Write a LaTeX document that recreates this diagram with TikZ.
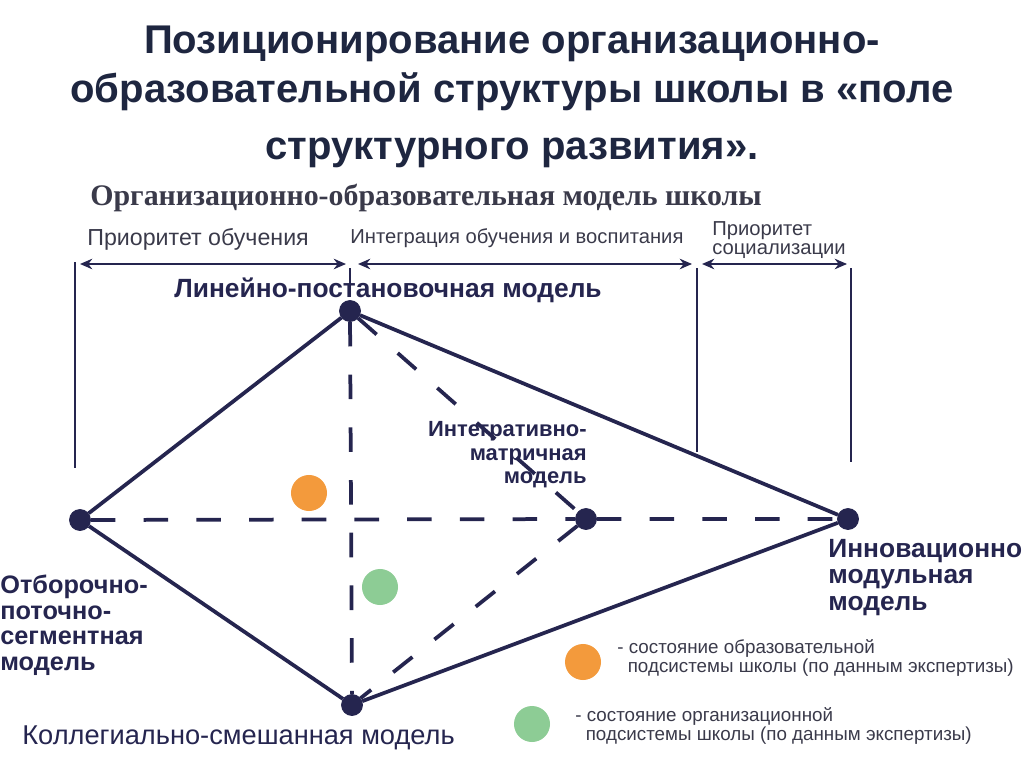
\documentclass[tikz,border=0pt]{standalone}
\usepackage{fontspec}
\setmainfont{Liberation Sans}
\newfontfamily\serifbold{Liberation Serif}
\usetikzlibrary{arrows.meta}
\definecolor{navy}{HTML}{25254F}
\definecolor{titlecol}{HTML}{1E2640}
\definecolor{textgray}{HTML}{3A3A4A}
\definecolor{dotorange}{HTML}{F39A3C}
\definecolor{dotgreen}{HTML}{8DCC95}

\begin{document}
\begin{tikzpicture}[x=0.02cm, y=-0.02cm]
            \tikzstyle{model}=[circle, fill=navy, draw=navy, inner sep=0pt, minimum size=12pt]
            \tikzstyle{edge}=[navy, line width=0.75mm]
            \tikzstyle{dashedge}=[navy, line width=0.75mm, dash pattern=on 14pt off 16pt]
            \tikzstyle{bar}=[navy, line width=0.5mm]
            \tikzstyle{span}=[navy, line width=0.4mm, {Stealth[length=7pt,width=6pt]}-{Stealth[length=7pt,width=6pt]}]
            \tikzstyle{label}=[font=\bfseries\fontsize{15}{15}\selectfont, text=navy, inner sep=0pt]
            \tikzstyle{small}=[font=\fontsize{11.5}{11}\selectfont, text=textgray, inner sep=0pt]
            \tikzstyle{state}=[circle, inner sep=0pt, minimum size=20.5pt]

            \useasboundingbox (0,0) rectangle (1024,767);

            % title
            \node[font=\bfseries\fontsize{22.8}{24}\selectfont, text=titlecol] (title1) at (512,44) {Позиционирование организационно-};
            \node[font=\bfseries\fontsize{22.8}{24}\selectfont, text=titlecol] (title2) at (512,92) {образовательной структуры школы в «поле};
            \node[font=\bfseries\fontsize{22.8}{24}\selectfont, text=titlecol] (title3) at (512,153) {структурного развития».};
            \node[font=\serifbold\bfseries\fontsize{17}{18}\selectfont, text=textgray, anchor=west, inner sep=0pt] (subtitle) at (90,198) {Организационно-образовательная модель школы};

            % priorities
            \node[small, font=\fontsize{13.2}{13}\selectfont, anchor=west] (prio1) at (87,239) {Приоритет обучения};
            \node[small, anchor=west] (prio2) at (350,238) {Интеграция обучения и воспитания};
            \node[small, anchor=west, align=left] (prio3) at (712,240) {Приоритет\\социализации};

            \coordinate (b1t) at (75,262);   \coordinate (b1b) at (75,468);
            \coordinate (b2t) at (350,268);  \coordinate (b2b) at (350,284);
            \coordinate (b3t) at (697,268);  \coordinate (b3b) at (697,452);
            \coordinate (b4t) at (851,268);  \coordinate (b4b) at (851,462);
            \draw[bar] (b1t) -- (b1b);
            \draw[bar] (b2t) -- (b2b);
            \draw[bar] (b3t) -- (b3b);
            \draw[bar] (b4t) -- (b4b);

            \coordinate (s1l) at (80,264);   \coordinate (s1r) at (346,264);
            \coordinate (s2l) at (358,264);  \coordinate (s2r) at (692,264);
            \coordinate (s3l) at (702,264);  \coordinate (s3r) at (847,264);
            \draw[span] (s1l) -- (s1r);
            \draw[span] (s2l) -- (s2r);
            \draw[span] (s3l) -- (s3r);

            % models
            \node[model] (lin) at (350,311) {};
            \node[model] (otb) at (80,520) {};
            \node[model] (kol) at (352,705) {};
            \node[model] (inn) at (848,519) {};
            \node[model] (int) at (586,519) {};

            \draw[dashedge] (otb) -- (int) -- (inn);
            \draw[dashedge] (lin) -- (kol);
            \draw[dashedge] (lin) -- (int) -- (kol);
            \draw[edge] (lin) -- (otb) -- (kol) -- (inn) -- (lin);

            \node[label] (linlab) at (388,290) {Линейно-постановочная модель};
            \node[label, font=\bfseries\fontsize{12.5}{13.5}\selectfont, align=right, anchor=north east] (intlab) at (587,421) {Интегративно-\\матричная\\модель};
            \node[label, align=left, anchor=north west] (innlab) at (828,539) {Инновационно\\модульная\\модель};
            \node[label, font=\bfseries\fontsize{14.4}{14.5}\selectfont, align=left, anchor=north west] (otblab) at (0,575) {Отборочно-\\поточно-\\сегментная\\модель};
            \node[label, font=\fontsize{15.5}{15}\selectfont, anchor=west] (kollab) at (22,738) {Коллегиально-смешанная модель};

            % states
            \node[state, fill=dotorange] (edu) at (309,493) {};
            \node[state, fill=dotgreen] (org) at (380,587) {};

            % legend
            \node[state, fill=dotorange] (leg1) at (583,662) {};
            \node[state, fill=dotgreen] (leg2) at (532,724) {};
            \node[small, font=\fontsize{10.7}{11}\selectfont, align=left, anchor=north west] (leg1txt) at (617,639) {- состояние образовательной\\\ \ подсистемы школы (по данным экспертизы)};
            \node[small, font=\fontsize{10.7}{11}\selectfont, align=left, anchor=north west] (leg2txt) at (575,707) {- состояние организационной\\\ \ подсистемы школы (по данным экспертизы)};
          \end{tikzpicture}
\end{document}
